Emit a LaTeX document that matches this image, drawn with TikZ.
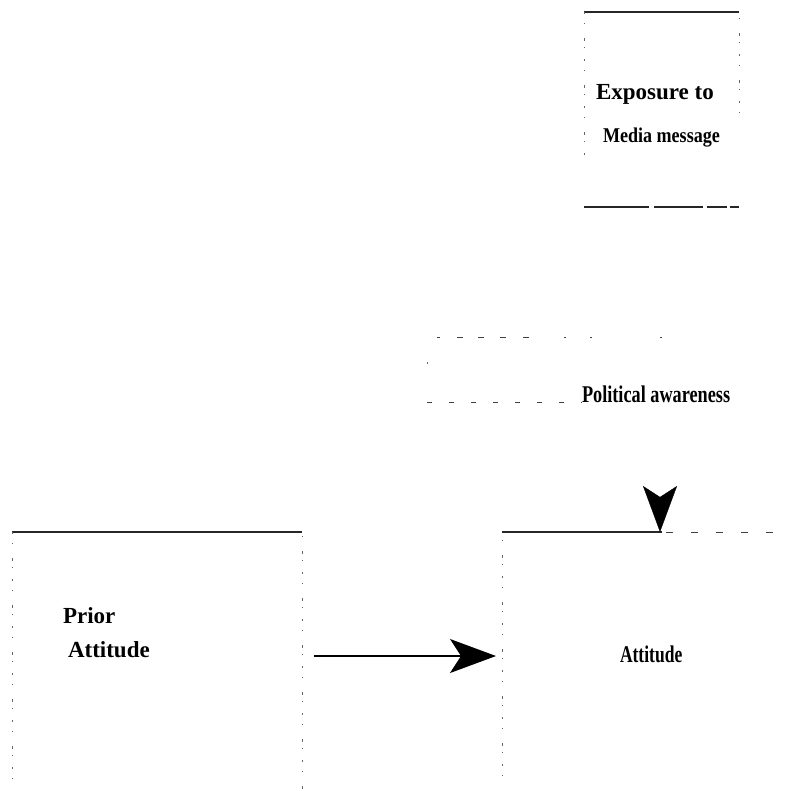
\documentclass[tikz,border=0pt]{standalone}
\usepackage{fontspec}
\setmainfont{Liberation Serif}
\usepackage{graphicx}
\usetikzlibrary{arrows.meta}
% horizontally condensed text
\newcommand{\narrowed}[2]{\scalebox{#1}[1]{#2}}
\newcommand{\sz}[1]{\fontsize{#1pt}{#1pt}\selectfont}

\begin{document}
\begin{tikzpicture}[x=1pt,y=-1pt,
  frame/.style={inner sep=0pt, outer sep=0pt},
  rule/.style={line width=1.2pt, black!85},
  sidedots/.style={line width=1pt, black!60,
    dash pattern=on 2pt off 9pt on 1pt off 14pt on 3pt off 6pt on 1pt off 11pt},
  loosedash/.style={line width=1pt, black!75, dash pattern=on 5pt off 16pt},
  headtip/.style={-{Stealth[length=46pt,width=34pt,inset=11pt]}},
  bigarrow/.style={line width=1.3pt, black, headtip},
  label/.style={anchor=base west, inner sep=0pt, outer sep=0pt, font=\bfseries}
]
\useasboundingbox (0,0) rectangle (791,790);
\fill[white] (0,0) rectangle (791,790);

% box frames
\node[frame, minimum width=155pt, minimum height=195pt] (media) at (661.5,109.5) {};
\node[frame, minimum width=235pt, minimum height=65pt] (aware) at (544.5,369.5) {};
\node[frame, minimum width=290pt, minimum height=258pt] (prior) at (157,661) {};
\node[frame, minimum width=278pt, minimum height=258pt] (attitude) at (641,661) {};

% labels
\node[label, font=\bfseries\sz{23}] (exposure) at (596,99) {Exposure to};
\node[label, font=\bfseries\sz{21}] (mediamsg) at (603,142) {\narrowed{0.86}{Media message}};
\node[label, font=\bfseries\sz{24}] (awaretext) at (582,402) {\narrowed{0.76}{Political awareness}};
\node[label, font=\bfseries\sz{23}] (prior1) at (63,623) {Prior};
\node[label, font=\bfseries\sz{23}] (prior2) at (68,657) {Attitude};
\node[label, font=\bfseries\sz{24}] (atttext) at (620,662) {\narrowed{0.73}{Attitude}};

% exposure box
\draw[rule] (media.north west) -- (media.north east);
\draw[sidedots] (media.north west) -- ++(0,145);
\draw[sidedots, dash phase=5pt] (media.north east) -- ++(0,106);
\draw[rule, dash pattern=on 65pt off 5pt on 49pt off 4pt on 20pt off 3pt on 11pt off 20pt]
  (media.south west) -- (media.south east);

% political awareness box
\draw[line width=1pt, black!75,
  dash pattern=on 3pt off 17pt on 6pt off 15pt on 6pt off 16pt on 6pt off 17pt on 6pt off 35pt
               on 2pt off 24pt on 2pt off 68pt on 2pt off 100pt]
  ([xshift=10pt]aware.north west) -- (aware.north east);
\draw[line width=1pt, black!60, dash pattern=on 0pt off 25pt on 1.5pt off 100pt]
  (aware.north west) -- (aware.south west);
\draw[loosedash, dash pattern=on 5pt off 17pt] (aware.south west) -- (awaretext.base west);

% prior attitude box
\draw[rule] (prior.north west) -- (prior.north east);
\draw[sidedots] (prior.north west) -- (prior.south west);
\draw[sidedots, dash phase=7pt] (prior.north east) -- (prior.south east);

% attitude box
\draw[rule] (attitude.north west) -- (attitude.north west -| aware.north east);
\draw[loosedash, dash pattern=on 7pt off 18pt, dash phase=-4pt]
  (attitude.north west -| aware.north east) -- (attitude.north east);
\draw[sidedots, dash phase=3pt] (attitude.north west) -- (attitude.south west);

% connectors
\coordinate (tail) at (314,656);
\coordinate (tipend) at ([xshift=-6pt]attitude.west |- tail);
\draw[bigarrow] (tail) -- (tipend);
% head only: the path is exactly as long as the tip behind its notch
\coordinate (drop) at (660,497);
\draw[line width=0.3pt, black, headtip] (drop) -- (drop |- attitude.north);
\end{tikzpicture}
\end{document}
